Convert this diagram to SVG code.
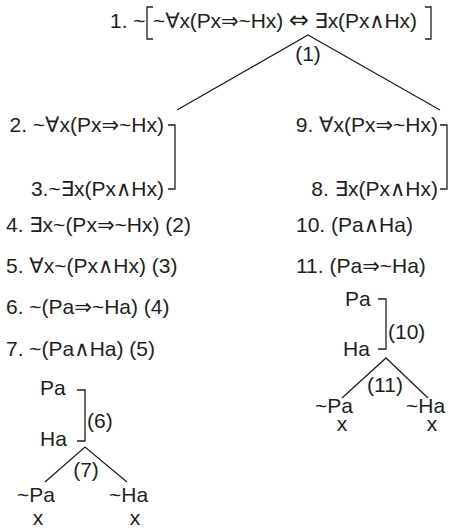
<svg xmlns="http://www.w3.org/2000/svg" width="449" height="531" viewBox="0 0 449 531">
<style>
text{font-family:"Liberation Sans","DejaVu Sans",Arial,sans-serif;font-size:21px;fill:#231f20}
.s{font-family:"DejaVu Sans",sans-serif;font-size:24px}
.m{text-anchor:middle}
.e{text-anchor:end}
.c{fill:none;stroke:#231f20;stroke-width:1.3}
</style>
<rect width="449" height="531" fill="#fff"/>
<g id="n1">
<text x="110" y="28">1. ~</text>
<path class="c" d="M153,7 H147 V39 H153"/>
<text x="153" y="28" textLength="264">~∀x(Px⇒~Hx) <tspan class="s">⇔</tspan> ∃x(Px∧Hx)</text>
<path class="c" d="M425,7 H431 V39 H425"/>
</g>
<g id="lbl1"><text class="m" x="308" y="61">(1)</text></g>
<g id="n2"><text class="e" x="164" y="132">2. ~∀x(Px⇒~Hx)</text></g>
<g id="n3"><text class="e" x="164" y="196">3.~∃x(Px∧Hx)</text></g>
<g id="n4"><text x="6" y="232">4. ∃x~(Px⇒~Hx) (2)</text></g>
<g id="n5"><text x="6" y="273">5. ∀x~(Px∧Hx) (3)</text></g>
<g id="n6"><text x="6" y="314">6. ~(Pa⇒~Ha) (4)</text></g>
<g id="n7"><text x="6" y="356">7. ~(Pa∧Ha) (5)</text></g>
<g id="n9"><text class="e" x="438" y="132">9. ∀x(Px⇒~Hx)</text></g>
<g id="n8"><text class="e" x="438" y="196">8. ∃x(Px∧Hx)</text></g>
<g id="n10"><text x="296" y="232">10. (Pa∧Ha)</text></g>
<g id="n11"><text x="296" y="273">11. (Pa⇒~Ha)</text></g>
<g id="lPa"><text x="40" y="395">Pa</text></g>
<g id="lHa"><text x="40" y="446">Ha</text></g>
<g id="l6"><text x="87" y="428">(6)</text></g>
<g id="l7"><text class="m" x="86" y="477">(7)</text></g>
<g id="lnPa"><text x="17" y="502">~Pa</text></g>
<g id="lnHa"><text x="109" y="502">~Ha</text></g>
<g id="lx1"><text class="m" x="38" y="525">x</text></g>
<g id="lx2"><text class="m" x="135" y="525">x</text></g>
<g id="rPa"><text x="345" y="306">Pa</text></g>
<g id="rHa"><text x="343" y="356">Ha</text></g>
<g id="r10"><text x="388" y="339">(10)</text></g>
<g id="r11"><text class="m" x="385" y="392">(11)</text></g>
<g id="rnPa"><text x="315" y="413">~Pa</text></g>
<g id="rnHa"><text x="406" y="413">~Ha</text></g>
<g id="rx1"><text class="m" x="342" y="431">x</text></g>
<g id="rx2"><text class="m" x="432" y="431">x</text></g>
<g id="connectors">
<path class="c" d="M177,110 L308,35 L440,110"/>
<path class="c" d="M168,125 H175 V189 H168"/>
<path class="c" d="M440,125 H447 V189 H440"/>
<path class="c" d="M77,390 H85 V441 H77"/>
<path class="c" d="M45,482 L85,447 L127,482"/>
<path class="c" d="M378,299 H386 V349 H378"/>
<path class="c" d="M342,398 L386,358 L428,398"/>
</g>
</svg>
